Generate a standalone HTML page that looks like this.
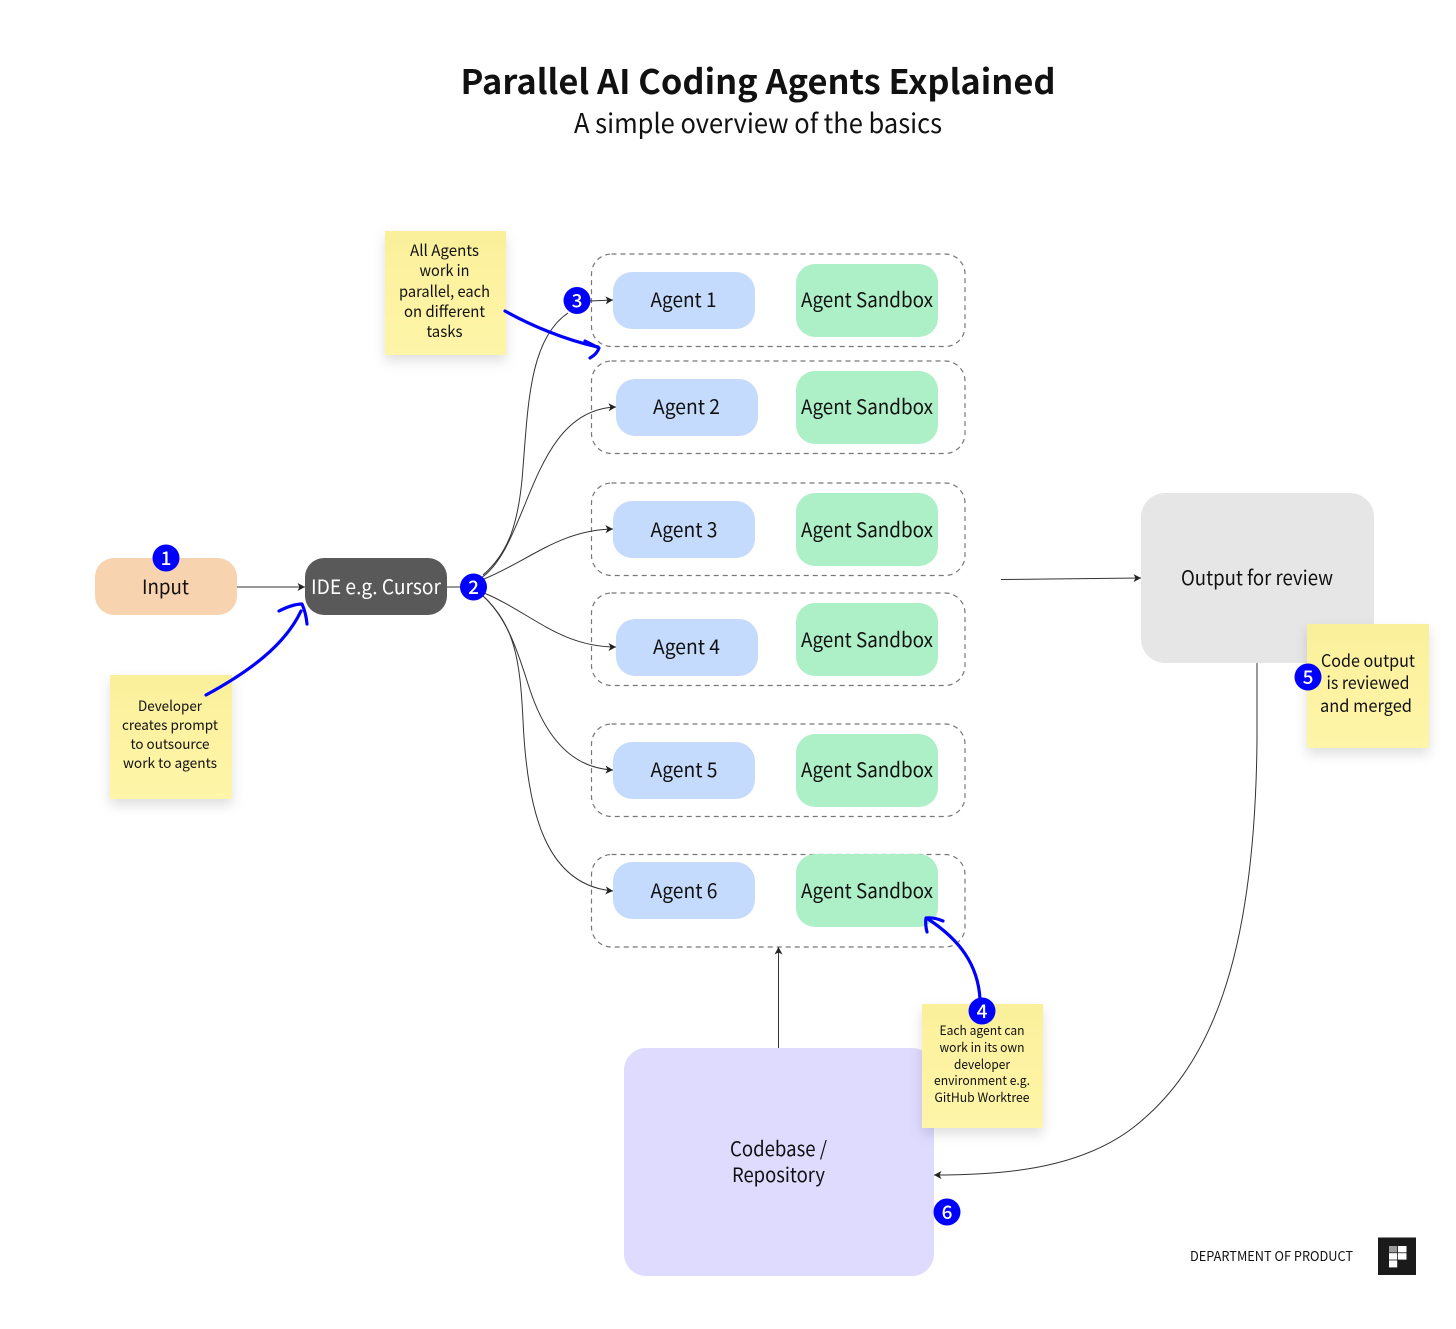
<!DOCTYPE html>
<html><head><meta charset="utf-8"><style>
html,body{margin:0;padding:0;background:#fff}
svg{display:block}
text{font-family:"Noto Sans CJK SC","Liberation Sans",sans-serif;text-anchor:middle;fill:#111}
.l{font-size:20px}
.n{font-size:19px;font-weight:500;fill:#fff}
.c{fill:none;stroke:#333;stroke-width:1}
.b{fill:none;stroke:#0000ff;stroke-width:3.2;stroke-linecap:round;stroke-linejoin:round}
.g{fill:none;stroke:#777;stroke-width:1.2;stroke-dasharray:5 4}
.a{fill:#c5dbfe}.s{fill:#adf0c7}
.y{fill:url(#yg);filter:url(#sh)}
</style></head><body>
<svg width="1456" height="1329" viewBox="0 0 1456 1329" xmlns="http://www.w3.org/2000/svg">
<defs>
<linearGradient id="yg" x1="0" y1="0" x2="0" y2="1"><stop offset="0" stop-color="#faf09b"/><stop offset="1" stop-color="#fff5a8"/></linearGradient>
<filter id="sh" x="-25%" y="-25%" width="150%" height="150%"><feDropShadow dx="0" dy="6" stdDeviation="6" flood-color="#000" flood-opacity=".13"/></filter>
<marker id="ar" markerUnits="userSpaceOnUse" markerWidth="9" markerHeight="9" refX="8" refY="4.5" orient="auto"><path d="M0.5 0.5L8 4.5L0.5 8.5L2.5 4.5Z" fill="#222"/></marker>
</defs>
<rect width="1456" height="1329" fill="#fff"/>

<text x="758" y="94" font-size="34" font-weight="700" textLength="595" lengthAdjust="spacingAndGlyphs">Parallel AI Coding Agents Explained</text>
<text x="758" y="133" font-size="27" textLength="368" lengthAdjust="spacingAndGlyphs">A simple overview of the basics</text>

<rect class="g" x="591.5" y="254" width="373.5" height="92.5" rx="20"/>
<rect class="g" x="591.5" y="361" width="373.5" height="92.5" rx="20"/>
<rect class="g" x="591.5" y="483" width="373.5" height="92.5" rx="20"/>
<rect class="g" x="591.5" y="593" width="373.5" height="92.5" rx="20"/>
<rect class="g" x="591.5" y="724" width="373.5" height="92.5" rx="20"/>
<rect class="g" x="591.5" y="854.5" width="373.5" height="92.5" rx="20"/>

<rect class="a" x="613" y="272" width="142" height="57" rx="19"/>
<rect class="a" x="616" y="379" width="142" height="57" rx="19"/>
<rect class="a" x="613" y="501" width="142" height="57" rx="19"/>
<rect class="a" x="616" y="619" width="142" height="57" rx="19"/>
<rect class="a" x="613" y="742" width="142" height="57" rx="19"/>
<rect class="a" x="613" y="862" width="142" height="57" rx="19"/>

<rect class="s" x="796" y="264" width="142" height="73" rx="19"/>
<rect class="s" x="796" y="371" width="142" height="73" rx="19"/>
<rect class="s" x="796" y="493" width="142" height="73" rx="19"/>
<rect class="s" x="796" y="603" width="142" height="73" rx="19"/>
<rect class="s" x="796" y="734" width="142" height="73" rx="19"/>
<rect class="s" x="796" y="854" width="142" height="73" rx="19"/>

<rect x="95" y="558" width="142" height="57" rx="19" fill="#f8d3b0"/>
<rect x="305" y="558" width="142" height="57" rx="19" fill="#595959"/>
<rect x="1141" y="493" width="233" height="170" rx="24" fill="#e6e6e6"/>
<rect x="624" y="1048" width="310" height="228" rx="22" fill="#dedbff"/>

<path class="c" marker-end="url(#ar)" d="M237 587H305"/>
<path class="c" d="M447 587H462"/>
<path class="c" d="M483 575C510 552 518 520 522 480C528 410 528 340 568 313"/>
<path class="c" marker-end="url(#ar)" d="M590 301L613 300"/>
<path class="c" marker-end="url(#ar)" d="M481 578C530 545 530 410 616 407"/>
<path class="c" marker-end="url(#ar)" d="M484 579C530 560 560 530 613 529"/>
<path class="c" marker-end="url(#ar)" d="M484 593C530 612 560 647 616 647"/>
<path class="c" marker-end="url(#ar)" d="M482 595C510 620 520 660 530 690C545 735 570 768 613 770"/>
<path class="c" marker-end="url(#ar)" d="M482 595C515 625 520 660 523 720C527 810 545 885 613 891"/>
<path class="c" marker-end="url(#ar)" d="M1001 579.5L1141 578"/>
<path class="c" marker-end="url(#ar)" d="M778.5 1048V947"/>
<path class="c" marker-end="url(#ar)" d="M1257 663V740C1255 960 1210 1070 1130 1130C1075 1170 1000 1175 934 1175"/>

<rect class="y" x="385" y="231" width="121" height="124"/>
<rect class="y" x="110" y="675" width="122" height="124"/>
<rect class="y" x="1307" y="624" width="122" height="124"/>
<rect class="y" x="922" y="1004" width="121" height="124"/>

<path class="b" d="M505 311C530 325 565 340 598 347"/>
<path class="b" d="M585 341L599 348Q597 354 590 358"/>
<path class="b" d="M206 695C250 671 285 645 301 611"/>
<path class="b" d="M279 611Q293 604 302 604Q306 613 307 624"/>
<path class="b" d="M980 999C978 965 960 940 928 919"/>
<path class="b" d="M927 932Q925 924 926 918Q934 917 943 921"/>

<text class="l" x="683.5" y="307" textLength="66" lengthAdjust="spacingAndGlyphs">Agent 1</text>
<text class="l" x="686.5" y="414" textLength="67" lengthAdjust="spacingAndGlyphs">Agent 2</text>
<text class="l" x="684" y="537" textLength="67" lengthAdjust="spacingAndGlyphs">Agent 3</text>
<text class="l" x="686.5" y="654" textLength="67" lengthAdjust="spacingAndGlyphs">Agent 4</text>
<text class="l" x="684" y="777" textLength="67" lengthAdjust="spacingAndGlyphs">Agent 5</text>
<text class="l" x="684" y="898" textLength="67" lengthAdjust="spacingAndGlyphs">Agent 6</text>
<text class="l" x="867" y="307" textLength="132" lengthAdjust="spacingAndGlyphs">Agent Sandbox</text>
<text class="l" x="867" y="414" textLength="132" lengthAdjust="spacingAndGlyphs">Agent Sandbox</text>
<text class="l" x="867" y="537" textLength="132" lengthAdjust="spacingAndGlyphs">Agent Sandbox</text>
<text class="l" x="867" y="647" textLength="132" lengthAdjust="spacingAndGlyphs">Agent Sandbox</text>
<text class="l" x="867" y="777" textLength="132" lengthAdjust="spacingAndGlyphs">Agent Sandbox</text>
<text class="l" x="867" y="898" textLength="132" lengthAdjust="spacingAndGlyphs">Agent Sandbox</text>
<text class="l" x="165.5" y="594" textLength="47" lengthAdjust="spacingAndGlyphs">Input</text>
<text class="l" x="376" y="594" textLength="130" lengthAdjust="spacingAndGlyphs" style="fill:#fff">IDE e.g. Cursor</text>
<text class="l" x="1257" y="585" textLength="152" lengthAdjust="spacingAndGlyphs">Output for review</text>
<text class="l" x="778.5" y="1156" textLength="97" lengthAdjust="spacingAndGlyphs">Codebase /</text>
<text class="l" x="778.5" y="1182" textLength="93" lengthAdjust="spacingAndGlyphs">Repository</text>

<g font-size="15.5">
<text x="444.5" y="256" textLength="69" lengthAdjust="spacingAndGlyphs">All Agents</text>
<text x="444.5" y="276" textLength="50" lengthAdjust="spacingAndGlyphs">work in</text>
<text x="444.5" y="297" textLength="91" lengthAdjust="spacingAndGlyphs">parallel, each</text>
<text x="444.5" y="317" textLength="81" lengthAdjust="spacingAndGlyphs">on different</text>
<text x="444.5" y="337" textLength="36" lengthAdjust="spacingAndGlyphs">tasks</text>
</g>
<g font-size="14">
<text x="170" y="711" textLength="64" lengthAdjust="spacingAndGlyphs">Developer</text>
<text x="170" y="730" textLength="96" lengthAdjust="spacingAndGlyphs">creates prompt</text>
<text x="170" y="749" textLength="79" lengthAdjust="spacingAndGlyphs">to outsource</text>
<text x="170" y="768" textLength="94" lengthAdjust="spacingAndGlyphs">work to agents</text>
</g>
<g font-size="17.5">
<text x="1368" y="667" textLength="94" lengthAdjust="spacingAndGlyphs">Code output</text>
<text x="1368" y="689" textLength="83" lengthAdjust="spacingAndGlyphs">is reviewed</text>
<text x="1366" y="712" textLength="92" lengthAdjust="spacingAndGlyphs">and merged</text>
</g>
<g font-size="13">
<text x="982" y="1035" textLength="85" lengthAdjust="spacingAndGlyphs">Each agent can</text>
<text x="982" y="1052" textLength="85" lengthAdjust="spacingAndGlyphs">work in its own</text>
<text x="982" y="1069" textLength="56" lengthAdjust="spacingAndGlyphs">developer</text>
<text x="982" y="1085" textLength="96" lengthAdjust="spacingAndGlyphs">environment e.g.</text>
<text x="982" y="1102" textLength="95" lengthAdjust="spacingAndGlyphs">GitHub Worktree</text>
</g>

<g fill="#0000ff">
<circle cx="166" cy="558" r="13.5"/><circle cx="473.5" cy="587" r="13.5"/><circle cx="577" cy="300.5" r="13.5"/>
<circle cx="982" cy="1011" r="13.5"/><circle cx="1308" cy="677" r="13.5"/><circle cx="947" cy="1212" r="13.5"/>
</g>
<text class="n" x="166" y="565">1</text>
<text class="n" x="473.5" y="594">2</text>
<text class="n" x="577" y="307.5">3</text>
<text class="n" x="982" y="1018">4</text>
<text class="n" x="1308" y="684">5</text>
<text class="n" x="947" y="1219">6</text>

<text x="1271.5" y="1261" font-size="13.5" textLength="163" lengthAdjust="spacingAndGlyphs">DEPARTMENT OF PRODUCT</text>
<rect x="1378" y="1237.5" width="38" height="37.5" fill="#1a1a1a"/>
<g fill="#fff">
<rect x="1389" y="1246" width="8.2" height="6.4" fill="#999"/>
<rect x="1398" y="1246" width="8.5" height="6.4"/>
<rect x="1389" y="1253.2" width="8.2" height="6.4"/>
<rect x="1398" y="1253.2" width="8.5" height="6.4"/>
<rect x="1389" y="1260.4" width="8.2" height="7"/>
</g>
</svg>
</body></html>
